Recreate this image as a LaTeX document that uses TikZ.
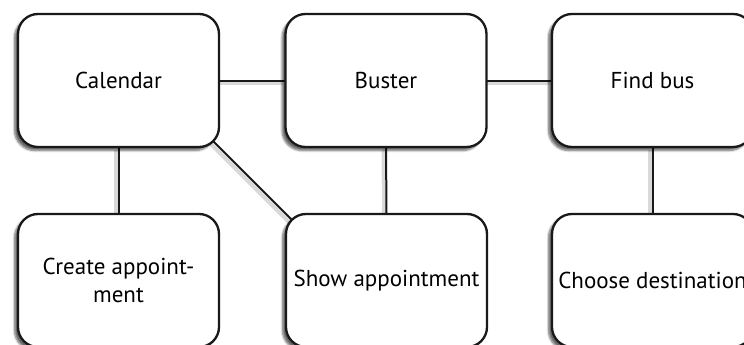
\documentclass[tikz,border=0pt]{standalone}
\usepackage{fontspec}
\setmainfont{PT Sans}
\usetikzlibrary{shadows.blur,calc,backgrounds}
\begin{document}
\begin{tikzpicture}[x=1pt,y=-1pt,
  box/.style={draw=black!90, line width=2.3pt, rounded corners=20pt, fill=white,
    minimum width=201pt, minimum height=133pt, outer sep=0pt, inner sep=0pt,
    align=center, font=\fontsize{23}{28}\selectfont,
    blur shadow={shadow xshift=-3.5pt, shadow yshift=-3.5pt, shadow blur steps=6, shadow opacity=60}},
  link/.style={line width=2pt, draw=black!90},
  linkshadow/.style={line width=4pt, draw=black, opacity=0.15, transform canvas={xshift=-2.5pt,yshift=-2.5pt}}]
\useasboundingbox (0,0) rectangle (744,345);
\clip (0,0) rectangle (744,345);
\node[box] (cal) at (118.5,80.5) {Calendar};
\node[box] (bus) at (386,80.5) {Buster};
\node[box] (find) at (652.5,80.5) {Find bus};
\node[box] (create) at (118.5,280.5) {Create appoint-\\ment};
\node[box] (show) at (386.5,280.5) {Show appointment};
\node[box] (choose) at (652.5,280.5) {Choose destination};
\begin{scope}[on background layer]
  \coordinate (c1) at ($(cal.south east)+(-6,-6)$);
  \coordinate (c2) at ($(show.north west)+(6,6)$);
  \foreach \s in {linkshadow,link}{
    \draw[\s] (cal.east) -- (bus.west);
    \draw[\s] (bus.east) -- (find.west);
    \draw[\s] (cal.south) -- (create.north);
    \draw[\s] (bus.south) -- (show.north);
    \draw[\s] (find.south) -- (choose.north);
    \draw[\s] (c1) -- (c2);
  }
\end{scope}
\end{tikzpicture}
\end{document}
